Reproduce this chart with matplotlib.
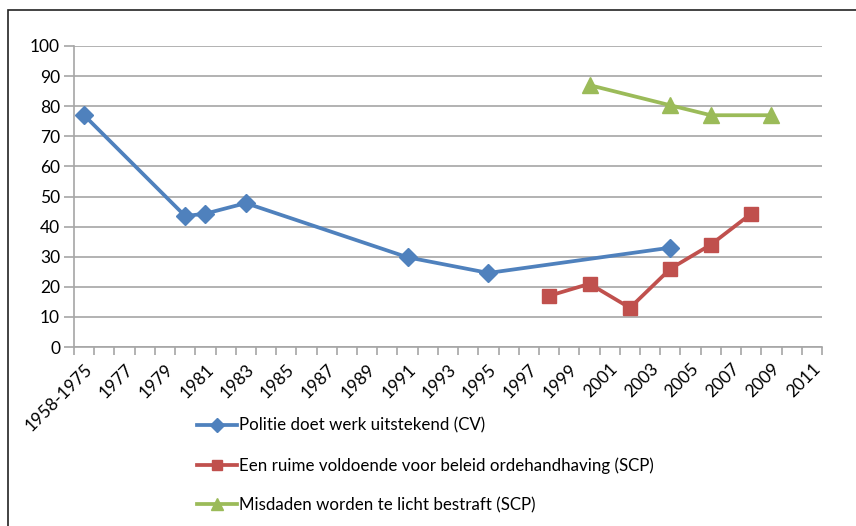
import numpy as np
import matplotlib.pyplot as plt
from matplotlib.patches import Rectangle

plt.rcParams['font.family'] = ['Lato', 'DejaVu Sans']

# Category axis: first bucket, then one per year
categories = ['1958-1975'] + [str(y) for y in range(1976, 2012)]

# Politie doet werk uitstekend (CV)
cv_years = ['1958-1975', '1980', '1981', '1983', '1991', '1995', '2004']
cv_values = [77, 43.5, 44.3, 47.8, 29.8, 24.6, 33.0]

# Een ruime voldoende voor beleid ordehandhaving (SCP)
scp1_years = ['1998', '2000', '2002', '2004', '2006', '2008']
scp1_values = [17.0, 21.0, 13.0, 26.0, 34.0, 44.3]

# Misdaden worden te licht bestraft (SCP)
scp2_years = ['2000', '2004', '2006', '2009']
scp2_values = [87.0, 80.3, 77.0, 77.0]

labels = ['Politie doet werk uitstekend (CV)',
          'Een ruime voldoende voor beleid ordehandhaving (SCP)',
          'Misdaden worden te licht bestraft (SCP)']

fig = plt.figure(figsize=(8.56, 5.26), dpi=100)
ax = fig.add_axes([74/856, 1-347/526, (822-74)/856, (347-46)/526])

# outer chart frame
fig.patches.append(Rectangle((8/856, -0.1), 1.2, 1-10/526+0.1, transform=fig.transFigure,
                             fill=False, edgecolor='#222222', linewidth=1.2, zorder=0))

def idx(lst):
    return [categories.index(c) for c in lst]

styles = [
    (cv_years, cv_values, '#4F81BD', 'D', 9),
    (scp1_years, scp1_values, '#C0504D', 's', 10.5),
    (scp2_years, scp2_values, '#9BBB59', '^', 11),
]
handles = []
for (yrs, vals, col, mk, ms), lab in zip(styles, labels):
    h, = ax.plot(idx(yrs), vals, color=col, marker=mk, markersize=ms,
                 linewidth=2.7, label=lab, zorder=3, clip_on=False)
    handles.append(h)

ax.set_xlim(-0.5, len(categories) - 0.5)
ax.set_ylim(0, 100)
ax.set_yticks(np.arange(0, 101, 10))
ax.yaxis.grid(True, color='#a6a6a6', linewidth=1.2)
ax.set_axisbelow(True)

ax.set_xticks(range(0, len(categories), 2))
ax.set_xticklabels(categories[::2], rotation=45, ha='right', rotation_mode='anchor')
ax.set_xticks(np.arange(-0.5, len(categories)), minor=True)
ax.tick_params(axis='x', which='major', length=0, pad=10, labelsize=12.5)
ax.tick_params(axis='x', which='minor', length=6, color='#a6a6a6', width=1.2)
ax.tick_params(axis='y', length=7, color='#a6a6a6', width=1.2, labelsize=12.5, pad=3)

for s in ['top', 'right']:
    ax.spines[s].set_visible(False)
for s in ['left', 'bottom']:
    ax.spines[s].set_color('#a6a6a6')
    ax.spines[s].set_linewidth(1.2)

fig.legend(handles=handles, loc='upper left', bbox_to_anchor=(190/856, 1-411/526),
           frameon=False, fontsize=12.2, handlelength=2.4, handletextpad=0.1,
           labelspacing=1.38, borderaxespad=0, markerscale=0.75)

fig.savefig('out.png', dpi=100)
